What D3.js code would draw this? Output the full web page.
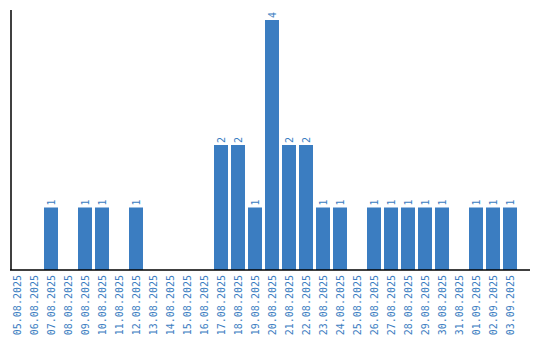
<!DOCTYPE html>
<html>
<head>
<meta charset="utf-8">
<script src="https://cdn.jsdelivr.net/npm/d3@7/dist/d3.min.js"></script>
<style>
  body { margin: 0; background: #fff; }
  text { font-family: "DejaVu Sans Mono", monospace; font-size: 10px; fill: #3b7dc1; }
</style>
</head>
<body>
<div id="chart"></div>
<script>
// Datos
const fechas = ['05.08.2025', '06.08.2025', '07.08.2025', '08.08.2025', '09.08.2025', '10.08.2025',
  '11.08.2025', '12.08.2025', '13.08.2025', '14.08.2025', '15.08.2025', '16.08.2025', '17.08.2025',
  '18.08.2025', '19.08.2025', '20.08.2025', '21.08.2025', '22.08.2025', '23.08.2025', '24.08.2025',
  '25.08.2025', '26.08.2025', '27.08.2025', '28.08.2025', '29.08.2025', '30.08.2025', '31.08.2025',
  '01.09.2025', '02.09.2025', '03.09.2025'];
const valores = [0, 0, 1, 0, 1, 1, 0, 1, 0, 0, 0, 0, 2, 2, 1, 4, 2, 2, 1, 1, 0, 1, 1, 1, 1, 1, 0, 1, 1, 1];

const width = 540, height = 340;
const base = 270;
const color = '#3b7dc1';

const svg = d3.select('#chart').append('svg')
  .attr('width', width).attr('height', height);

const x = d3.scaleBand().domain(fechas).range([8.5, 518.5])
  .paddingInner(3 / 17).paddingOuter(1.5 / 17);
const y = d3.scaleLinear().domain([0, d3.max(valores)]).range([base, 20]);

const datos = fechas.map((f, i) => ({ f, v: valores[i] }));

// Barras
svg.append('g').selectAll('rect').data(datos.filter(d => d.v > 0)).enter().append('rect')
  .attr('x', d => x(d.f))
  .attr('y', d => y(d.v))
  .attr('width', x.bandwidth())
  .attr('height', d => base - y(d.v))
  .attr('fill', color);

// Etiquetas de valor
svg.append('g').selectAll('text').data(datos.filter(d => d.v > 0)).enter().append('text')
  .attr('transform', d => `translate(${x(d.f) + x.bandwidth() / 2 + 3.5},${y(d.v) - 2}) rotate(-90)`)
  .attr('text-anchor', 'start')
  .text(d => d.v);

// Ejes
svg.append('line').attr('x1', 11).attr('x2', 11).attr('y1', 10).attr('y2', base)
  .attr('stroke', '#000').attr('stroke-width', 1.5);
svg.append('line').attr('x1', 10).attr('x2', 530).attr('y1', base).attr('y2', base)
  .attr('stroke', '#000').attr('stroke-width', 1.5);

// Etiquetas de fecha
svg.append('g').selectAll('text').data(fechas).enter().append('text')
  .attr('transform', f => `translate(${x(f) + x.bandwidth() / 2 + 3.5},275) rotate(-90)`)
  .attr('text-anchor', 'end')
  .text(f => f);
</script>
</body>
</html>
